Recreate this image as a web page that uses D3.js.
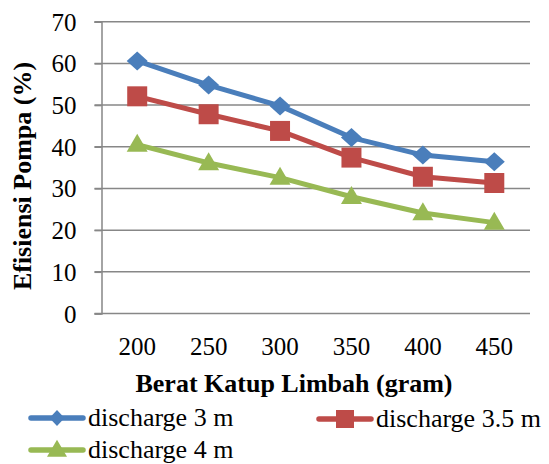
<!DOCTYPE html>
<html>
<head>
<meta charset="utf-8">
<script src="https://cdn.jsdelivr.net/npm/d3@7"></script>
<style>
  html, body { margin: 0; padding: 0; background: #fff; }
  svg { display: block; }
  svg text { font-family: "Liberation Serif", "Times New Roman", "DejaVu Serif", serif !important; fill: #000; }
</style>
</head>
<body>
<svg id="chart" width="549" height="464"></svg>
<script>
// Berat katup limbah (gram) on the x axis
const categories = ["200", "250", "300", "350", "400", "450"];
// Efisiensi pompa (%) per discharge head
const discharge3 = [60.6, 54.8, 49.8, 42.2, 38.0, 36.4];
const discharge35 = [52.1, 47.8, 43.8, 37.4, 32.8, 31.3];
const discharge4 = [40.5, 36.1, 32.6, 28.0, 24.1, 21.8];
const yTicks = [0, 10, 20, 30, 40, 50, 60, 70];
const seriesNames = ["discharge 3 m", "discharge 3.5 m", "discharge 4 m"];

// marker shapes: w = width, h = height in px
const diamond = (w, h) => ({ draw(ctx) {
  ctx.moveTo(0, -h / 2); ctx.lineTo(w / 2, 0); ctx.lineTo(0, h / 2); ctx.lineTo(-w / 2, 0); ctx.closePath();
}});
const square = (w) => ({ draw(ctx) { ctx.rect(-w / 2, -w / 2, w, w); }});
const triangle = (w, h) => ({ draw(ctx) {
  ctx.moveTo(0, -h * 0.6); ctx.lineTo(w / 2, h * 0.4); ctx.lineTo(-w / 2, h * 0.4); ctx.closePath();
}});

const series = [
  { name: seriesNames[0], values: discharge3, color: "#4a7ebb", marker: diamond(21, 19), legendMarker: diamond(15, 16) },
  { name: seriesNames[1], values: discharge35, color: "#be4b48", marker: square(20), legendMarker: square(18) },
  { name: seriesNames[2], values: discharge4, color: "#98b954", marker: triangle(21, 18), legendMarker: triangle(20, 17) }
];

const svg = d3.select("#chart");
const plot = { left: 101.5, right: 530, top: 21.7, bottom: 313.5 };

const x = d3.scaleBand().domain(categories).range([plot.left, plot.right]);
const y = d3.scaleLinear().domain([0, 70]).range([plot.bottom, plot.top]);
const grid = "#878787";

// horizontal gridlines with short tick stubs left of the axis
svg.append("g").selectAll("line").data(yTicks.filter(t => t > 0)).join("line")
  .attr("x1", plot.left - 7).attr("x2", plot.right)
  .attr("y1", d => y(d)).attr("y2", d => y(d))
  .attr("stroke", grid).attr("stroke-width", 1.5);

// y axis
const yAxis = svg.append("g").attr("transform", `translate(${plot.left},0)`)
  .call(d3.axisLeft(y).tickValues(yTicks).tickSize(7).tickPadding(18).tickFormat(d3.format("d")));
yAxis.select(".domain").attr("stroke", grid).attr("stroke-width", 1.5);
yAxis.selectAll(".tick line").attr("stroke", grid).attr("stroke-width", 1.5);
yAxis.selectAll("text").attr("font-size", 25).attr("dy", "0.34em");

// x axis
const xAxis = svg.append("g").attr("transform", `translate(0,${plot.bottom})`)
  .call(d3.axisBottom(x).tickSize(0).tickPadding(24));
xAxis.select(".domain").attr("stroke", grid).attr("stroke-width", 1.5)
  .attr("d", `M${plot.left - 7},0H${plot.right}`);
xAxis.selectAll("text").attr("font-size", 25);

// axis titles
svg.append("text")
  .attr("x", 294).attr("y", 392)
  .attr("text-anchor", "middle").attr("font-size", 26).attr("font-weight", "bold")
  .text("Berat Katup Limbah (gram)");
svg.append("text")
  .attr("transform", "translate(31,176) rotate(-90)")
  .attr("text-anchor", "middle").attr("font-size", 26).attr("font-weight", "bold")
  .text("Efisiensi Pompa (%)");

// series lines and markers
const cx = i => x(categories[i]) + x.bandwidth() / 2;
const line = d3.line().x((d, i) => cx(i)).y(d => y(d));
series.forEach(s => {
  const g = svg.append("g");
  g.append("path").datum(s.values).attr("d", line)
    .attr("fill", "none").attr("stroke", s.color).attr("stroke-width", 5)
    .attr("stroke-linejoin", "round").attr("stroke-linecap", "round");
  g.selectAll("path.m").data(s.values).join("path").attr("class", "m")
    .attr("transform", (d, i) => `translate(${cx(i)},${y(d)})`)
    .attr("d", d3.symbol().type(s.marker))
    .attr("fill", s.color);
});

// legend
const legendPos = [
  { x: 31, y: 418 },
  { x: 319, y: 419 },
  { x: 31, y: 450 }
];
series.forEach((s, i) => {
  const p = legendPos[i];
  const g = svg.append("g").attr("transform", `translate(${p.x},${p.y})`);
  g.append("line").attr("x1", 0).attr("x2", 52).attr("y1", 0).attr("y2", 0)
    .attr("stroke", s.color).attr("stroke-width", 5.5).attr("stroke-linecap", "round");
  g.append("path").attr("transform", "translate(26,0)")
    .attr("d", d3.symbol().type(s.legendMarker))
    .attr("fill", s.color);
  g.append("text").attr("x", 57).attr("y", 8).attr("font-size", 26).text(s.name);
});
</script>
</body>
</html>
